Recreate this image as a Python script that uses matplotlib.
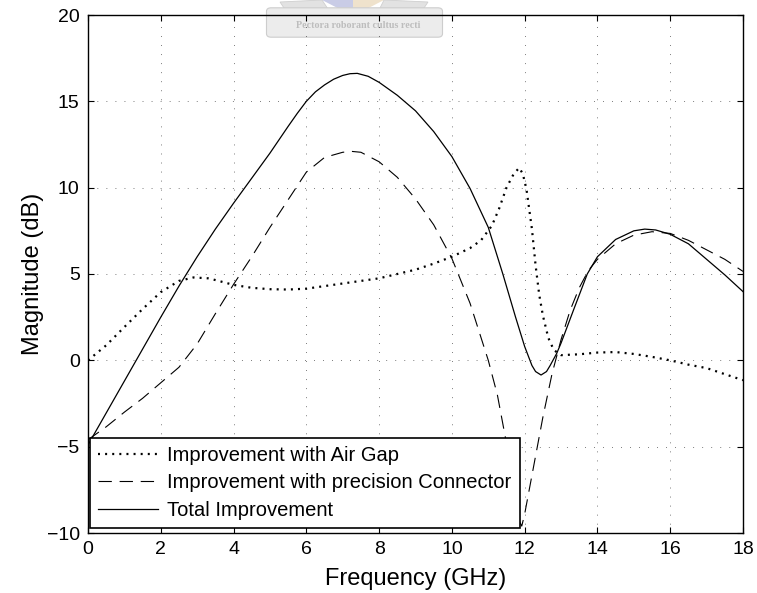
import numpy as np
import matplotlib
matplotlib.use('Agg')
import matplotlib.pyplot as plt
from matplotlib.patches import FancyBboxPatch, Polygon

plt.rcParams['font.family'] = ['Liberation Sans', 'DejaVu Sans']

# ---------------- donnees ----------------
# Improvement with Air Gap (pointille)
f_air = [0, 0.5, 1.0, 1.5, 2.0, 2.5, 2.9, 3.3, 3.5, 4.0, 4.5, 5.0, 5.5, 6.0, 6.5, 7.0,
         7.5, 8.0, 8.5, 9.0, 9.5, 10.0, 10.5, 10.8, 11.1, 11.3, 11.5, 11.7, 11.85,
         11.95, 12.05, 12.2, 12.3, 12.4, 12.5, 12.65, 12.8, 13.0, 13.5, 14.0, 14.5,
         15.0, 15.5, 16.0, 16.5, 17.0, 17.5, 18.0]
g_air = [0.0, 0.87, 1.93, 2.97, 3.95, 4.6, 4.8, 4.75, 4.65, 4.37, 4.2, 4.12, 4.1, 4.15,
         4.3, 4.45, 4.6, 4.75, 5.0, 5.25, 5.6, 6.0, 6.5, 6.95, 7.8, 8.8, 10.0, 10.8,
         11.15, 10.8, 9.9, 7.6, 5.5, 3.8, 2.6, 1.3, 0.6, 0.3, 0.35, 0.45, 0.48, 0.37,
         0.2, 0.0, -0.25, -0.45, -0.8, -1.15]

# Improvement with precision Connector (tirets)
f_con = [0, 0.5, 1.0, 1.5, 2.0, 2.5, 3.0, 3.5, 4.0, 4.5, 5.0, 5.5, 6.0, 6.5, 7.0, 7.25,
         7.5, 8.0, 8.5, 9.0, 9.5, 10.0, 10.5, 11.0, 11.25, 11.5, 11.7, 11.85, 11.92,
         12.0, 12.25, 12.5, 12.75, 13.0, 13.25, 13.5, 13.75, 14.0, 14.5, 15.0, 15.5,
         16.0, 16.5, 17.0, 17.5, 18.0]
g_con = [-4.6, -3.85, -3.0, -2.2, -1.3, -0.4, 0.95, 2.7, 4.4, 6.0, 7.7, 9.3, 10.9, 11.75,
         12.05, 12.1, 12.05, 11.5, 10.6, 9.35, 7.85, 5.9, 3.3, 0.0, -2.0, -4.8, -7.5,
         -9.3, -9.6, -8.9, -6.1, -3.3, -0.8, 1.2, 2.9, 4.2, 5.2, 5.85, 6.75, 7.25, 7.45,
         7.35, 6.95, 6.4, 5.85, 5.15]

# Total Improvement (trait plein)
f_tot = [0, 0.5, 1.0, 1.5, 2.0, 2.5, 3.0, 3.5, 4.0, 4.5, 5.0, 5.5, 5.75, 6.0, 6.25, 6.5,
         6.75, 7.0, 7.2, 7.4, 7.7, 8.0, 8.5, 9.0, 9.5, 10.0, 10.5, 11.0, 11.4, 11.75,
         12.0, 12.2, 12.3, 12.45, 12.6, 12.7, 12.88, 13.0, 13.34, 13.72, 14.0, 14.5,
         15.0, 15.3, 15.6, 16.0, 16.5, 17.0, 17.5, 18.0]
g_tot = [-4.9, -3.05, -1.2, 0.65, 2.5, 4.3, 6.0, 7.6, 9.1, 10.55, 12.0, 13.55, 14.3,
         15.0, 15.55, 15.95, 16.28, 16.5, 16.6, 16.62, 16.45, 16.1, 15.35, 14.45, 13.25,
         11.8, 9.95, 7.7, 5.0, 2.5, 0.8, -0.3, -0.65, -0.85, -0.65, -0.3, 0.4, 1.0, 2.9,
         5.0, 6.0, 7.0, 7.5, 7.6, 7.55, 7.3, 6.75, 5.85, 4.95, 3.98]

labels = ['Improvement with Air Gap', 'Improvement with precision Connector',
          'Total Improvement']
xticks = np.arange(0, 19, 2)
yticks = np.arange(-10, 21, 5)

# ---------------- figure ----------------
W, H = 757, 593
fig = plt.figure(figsize=(W / 100, H / 100), dpi=100)
ax = fig.add_axes([88 / W, 1 - 533 / H, 655 / W, 518 / H])
ax.set_facecolor('none')

# logo en filigrane (sous les axes)
def px(x, y):
    return (x / W, 1 - y / H)

logo = [
    Polygon([px(322, 0), px(353, 0), px(353, 16)], closed=True, fc='#c9cce6', ec='none'),
    Polygon([px(353, 0), px(384, 0), px(353, 16)], closed=True, fc='#efe2cc', ec='none'),
    Polygon([px(280, 2), px(322, 0), px(330, 12), px(288, 14)], closed=True,
            fc='#e2e2e2', ec='#cfcfcf', lw=0.6),
    Polygon([px(384, 0), px(428, 2), px(420, 14), px(378, 12)], closed=True,
            fc='#e2e2e2', ec='#cfcfcf', lw=0.6),
]
box = FancyBboxPatch(px(268, 36), 173 / W, 27 / H,
                     boxstyle='round,pad=0.002,rounding_size=0.006',
                     transform=fig.transFigure, fc='#ececec', ec='#cdcdcd', lw=0.8)
for p in logo + [box]:
    p.set_transform(fig.transFigure)
    p.set_zorder(-5)
    fig.patches.append(p)
fig.text(358 / W, 1 - 25 / H, 'Pectora roborant cultus recti', ha='center', va='center',
         fontsize=7.2, family='Liberation Serif', weight='bold', color='#bdbdbd', zorder=-4)

# courbes
l1, = ax.plot(f_air, g_air, color='black', lw=1.6, linestyle=(0, (0.9, 2.3)))
l2, = ax.plot(f_con, g_con, color='black', lw=0.8, linestyle=(0, (12, 7)))
l3, = ax.plot(f_tot, g_tot, color='black', lw=0.9)

ax.set_xlim(0, 18)
ax.set_ylim(-10, 20)
ax.set_xticks(xticks)
ax.set_yticks(yticks)
ax.tick_params(direction='in', length=4, width=0.8, top=True, right=True,
               labelsize=14, pad=6)
for s in ax.spines.values():
    s.set_linewidth(1.0)
ax.grid(True, color='black', lw=0.5, linestyle=(0, (1, 12)))

ax.set_xlabel('Frequency (GHz)', fontsize=17, labelpad=7)
ax.set_ylabel('Magnitude (dB)', fontsize=17, labelpad=2)

leg = ax.legend([l1, l2, l3], labels, loc='lower left', bbox_to_anchor=(0.003, 0.0097),
                borderaxespad=0, fontsize=14.5, handlelength=3, handletextpad=0.45,
                borderpad=0.4, labelspacing=0.42, fancybox=False, framealpha=1,
                edgecolor='black')
leg.get_frame().set_linewidth(1.2)

fig.savefig('out.png', dpi=100)
